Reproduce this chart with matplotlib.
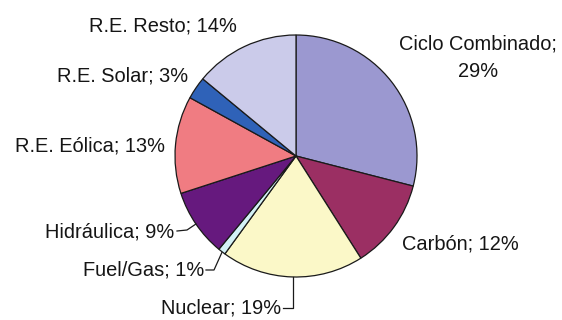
import numpy as np
import matplotlib.pyplot as plt

plt.rcParams['font.family'] = ['Liberation Sans', 'DejaVu Sans']

# generation mix, clockwise from 12 o'clock
labels = ['Ciclo Combinado', 'Carbón', 'Nuclear', 'Fuel/Gas', 'Hidráulica',
          'R.E. Eólica', 'R.E. Solar', 'R.E. Resto']
shares = [29, 12, 19, 1, 9, 13, 3, 14]
colors = ['#9b98d0', '#9b2f63', '#fbf8c8', '#d3f1f6', '#66197e',
          '#f07c82', '#2f62b8', '#cbcbea']

W, H = 562, 320
fig = plt.figure(figsize=(W / 100, H / 100), dpi=100)
ax = fig.add_axes([0, 0, 1, 1])
ax.axis('off')

cx, cy, r = 296, 156, 121

# y axis runs downwards, so counterclock in data is clockwise on screen
ax.pie(shares, colors=colors, center=(cx, cy), radius=r, startangle=-90,
       counterclock=True,
       wedgeprops=dict(edgecolor='#1a1a1a', linewidth=0.9))
ax.set_xlim(0, W)
ax.set_ylim(H, 0)
ax.set_aspect('equal')

fs = 14.4
tc = '#151515'

def label_text(i):
    return f'{labels[i]}; {shares[i]}%'

def edge_point(i):
    start = sum(shares[:i])
    mid = (start + shares[i] / 2) / sum(shares) * 2 * np.pi
    return cx + r * np.sin(mid), cy - r * np.cos(mid)

# labels placed beside the pie
ax.text(478, 50, 'Ciclo Combinado;', ha='center', va='baseline', fontsize=fs, color=tc)
ax.text(478, 77, f'{shares[0]}%', ha='center', va='baseline', fontsize=fs, color=tc)
ax.text(460, 250, label_text(1), ha='center', va='baseline', fontsize=fs, color=tc)
ax.text(163, 31, label_text(7), ha='center', va='baseline', fontsize=fs, color=tc)
ax.text(188, 82, label_text(6), ha='right', va='baseline', fontsize=fs, color=tc)
ax.text(90, 152, label_text(5), ha='center', va='baseline', fontsize=fs, color=tc)

# labels with leader lines
leaders = [
    (4, 174, 237),
    (3, 204, 276),
    (2, 281, 314),
]
for i, tx, ty in leaders:
    ax.text(tx, ty, label_text(i), ha='right', va='baseline', fontsize=fs, color=tc)
    ex, ey = edge_point(i)
    ly = ty - 6
    if i == 4:
        pts = [(tx + 3, ly), (tx + 13, ly - 1), (ex, ey)]
    elif i == 3:
        pts = [(tx + 2, ly), (tx + 10, ly), (ex, ey + 1)]
    else:
        pts = [(tx + 2, ly), (ex + 1, ly), (ex + 1, ey)]
    xs, ys = zip(*pts)
    ax.plot(xs, ys, color='#1a1a1a', linewidth=0.9)

fig.savefig('out.png', dpi=100, facecolor='white')
